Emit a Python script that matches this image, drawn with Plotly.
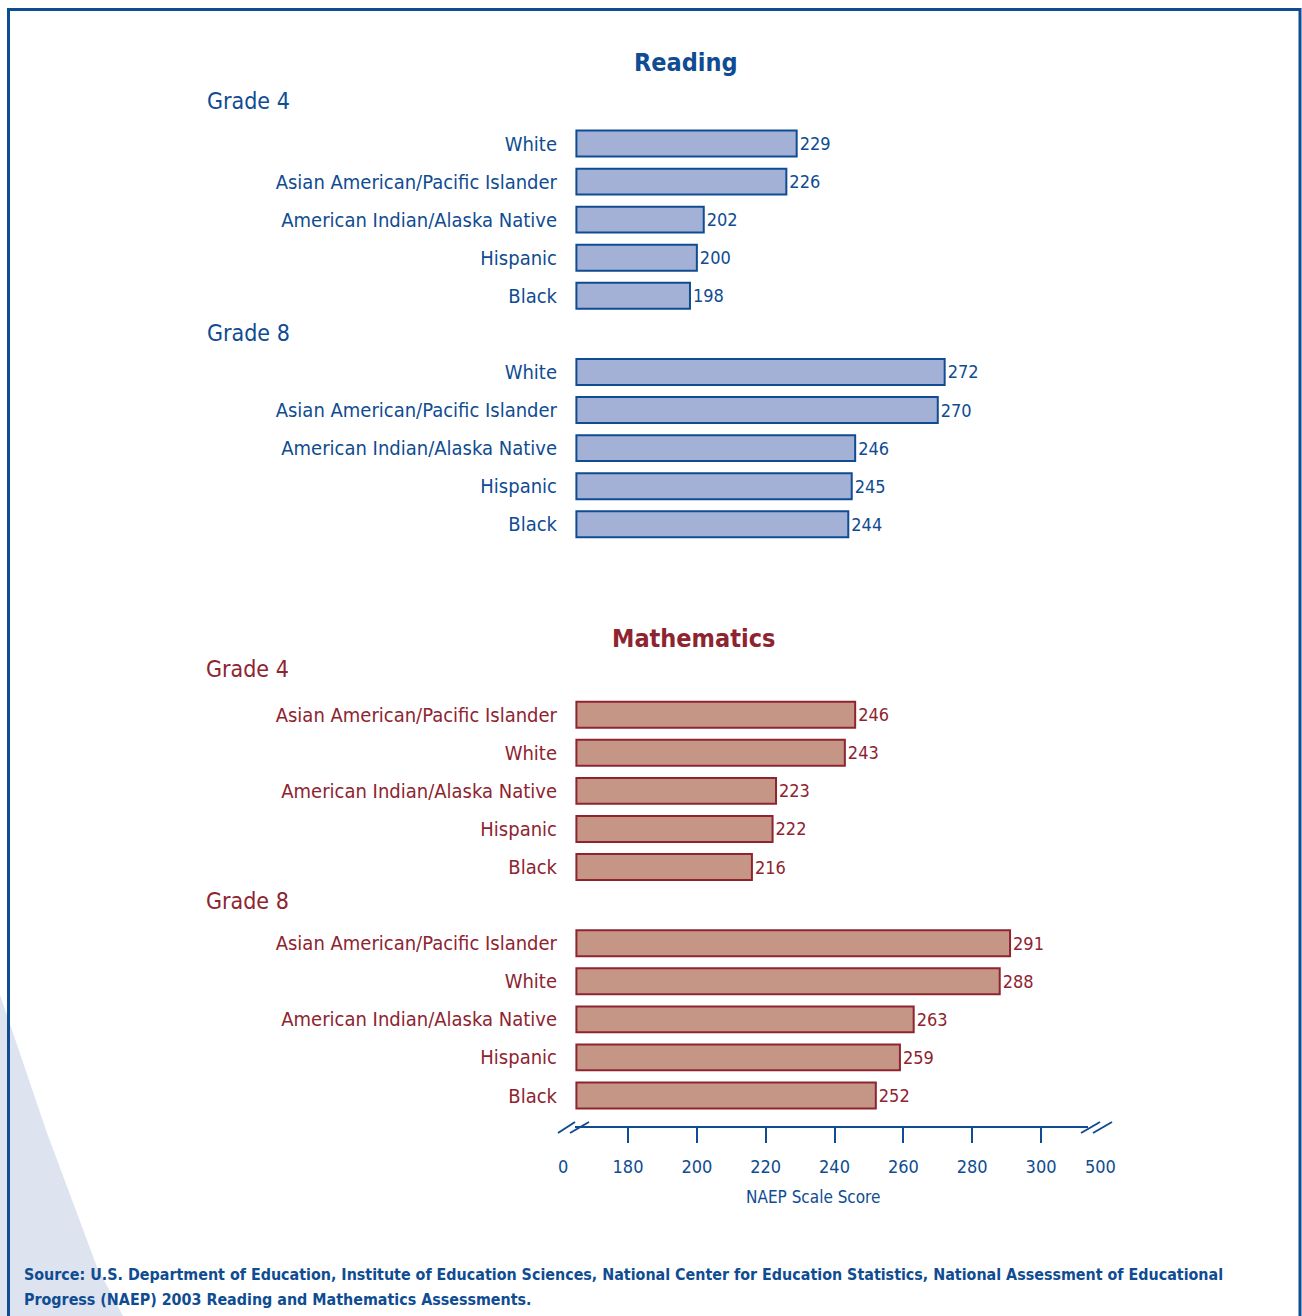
import plotly.graph_objects as go

# ---------------- data ----------------
reading_g4_cats = ["White", "Asian American/Pacific Islander", "American Indian/Alaska Native", "Hispanic", "Black"]
reading_g4 = [229, 226, 202, 200, 198]
reading_g8_cats = ["White", "Asian American/Pacific Islander", "American Indian/Alaska Native", "Hispanic", "Black"]
reading_g8 = [272, 270, 246, 245, 244]
math_g4_cats = ["Asian American/Pacific Islander", "White", "American Indian/Alaska Native", "Hispanic", "Black"]
math_g4 = [246, 243, 223, 222, 216]
math_g8_cats = ["Asian American/Pacific Islander", "White", "American Indian/Alaska Native", "Hispanic", "Black"]
math_g8 = [291, 288, 263, 259, 252]
axis_ticks = [180, 200, 220, 240, 260, 280, 300]
axis_break_labels = ["0", "500"]
BASE = 165

# ---------------- style ----------------
FONT = "DejaVu Sans Condensed, DejaVu Sans, sans-serif"
BLUE = "#0f4c92"
READ_FILL = "#a4b1d6"
RED = "#8e2430"
MATH_FILL = "#c59686"

W_FIG, H_FIG = 1302, 1316
L, R, T, B = 575, 1088, 0, 1126  # plot area in pixels
PW, PH = R - L, B - T


def px(x):
    return (x - L) / PW


def py(y):
    return (B - y) / PH


groups = [
    (reading_g4_cats, reading_g4, 0, READ_FILL, BLUE),
    (reading_g8_cats, reading_g8, 6, READ_FILL, BLUE),
    (math_g4_cats, math_g4, 15, MATH_FILL, RED),
    (math_g8_cats, math_g8, 21, MATH_FILL, RED),
]

fig = go.Figure()
tickvals, ticktext = [], []
for cats, vals, off, fill, col in groups:
    rows = [off + i for i in range(len(cats))]
    fig.add_trace(go.Bar(
        y=rows, x=[v - BASE for v in vals], base=BASE, orientation="h",
        width=0.68,
        marker=dict(color=fill, line=dict(color=col, width=2)),
        text=[str(v) for v in vals], textposition="outside",
        textfont=dict(family=FONT, size=18, color=col),
        cliponaxis=False, constraintext="none", hoverinfo="skip",
    ))
    tickvals += rows
    ticktext += [f'<span style="color:{col}">{c}</span>' for c in cats]

ann = []
# section titles
ann.append(dict(text="<b>Reading</b>", x=px(686), y=py(62), font=dict(size=25, color=BLUE)))
ann.append(dict(text="<b>Mathematics</b>", x=px(693), y=py(638), font=dict(size=25, color=RED)))
# grade labels
for txt, xx, yy, col in [("Grade 4", 205, 101, BLUE), ("Grade 8", 205, 333, BLUE),
                         ("Grade 4", 204, 669, RED), ("Grade 8", 204, 901, RED)]:
    ann.append(dict(text=txt, x=px(xx), y=py(yy), xanchor="left", font=dict(size=23, color=col)))
# axis break labels
ann.append(dict(text=axis_break_labels[0], x=px(563), y=py(1166), font=dict(size=18, color=BLUE)))
ann.append(dict(text=axis_break_labels[1], x=px(1100), y=py(1166), font=dict(size=18, color=BLUE)))
# axis title
ann.append(dict(text="NAEP Scale Score", x=px(813), y=py(1197), font=dict(size=17, color=BLUE)))
# source
ann.append(dict(text="<b>Source: U.S. Department of Education, Institute of Education Sciences, National Center for Education Statistics, National Assessment of Educational</b>",
                x=px(22), y=py(1274), xanchor="left", font=dict(size=15.9, color=BLUE)))
ann.append(dict(text="<b>Progress (NAEP) 2003 Reading and Mathematics Assessments.</b>",
                x=px(22), y=py(1299), xanchor="left", font=dict(size=15.9, color=BLUE)))
for a in ann:
    a.update(xref="paper", yref="paper", showarrow=False)
    a.setdefault("xanchor", "center")
    a["yanchor"] = "middle"
    a["font"]["family"] = FONT

shapes = []
# decorative light wedge bottom-left
pts = [(0, 995), (13, 1033), (47, 1133), (97, 1267), (123, 1316), (0, 1316)]
path = "M " + " L ".join(f"{px(x)},{py(y)}" for x, y in pts) + " Z"
shapes.append(dict(type="path", path=path, xref="paper", yref="paper",
                   fillcolor="#dde3ef", line=dict(width=0), layer="below"))
# frame
fpts = [(8.5, 1320), (8.5, 9.5), (1300, 9.5), (1300, 1320)]
fpath = "M " + " L ".join(f"{px(x)},{py(y)}" for x, y in fpts)
shapes.append(dict(type="path", path=fpath, xref="paper", yref="paper",
                   line=dict(color=BLUE, width=3), layer="above"))
# axis break marks
for (x0, y0, x1, y1) in [(558, 1133, 575, 1122), (570, 1133, 589, 1122),
                         (1081, 1133, 1100, 1122), (1093, 1133, 1112, 1122)]:
    shapes.append(dict(type="line", xref="paper", yref="paper",
                       x0=px(x0), y0=py(y0), x1=px(x1), y1=py(y1),
                       line=dict(color=BLUE, width=2)))

scale = 413 / 120.0  # px per score unit (180->628, 300->1041)
x_lo = BASE + (L - 576.4) / scale
x_hi = BASE + (R - 576.4) / scale
row0, rstep = 143.5, 38.08

fig.update_layout(
    width=W_FIG, height=H_FIG,
    margin=dict(l=L, r=W_FIG - R, t=T, b=H_FIG - B, pad=0),
    paper_bgcolor="white", plot_bgcolor="white",
    showlegend=False, barmode="overlay",
    font=dict(family=FONT, color=BLUE),
    annotations=ann, shapes=shapes,
    xaxis=dict(range=[x_lo, x_hi], tickvals=axis_ticks, ticktext=[str(t) for t in axis_ticks],
               tickfont=dict(family=FONT, size=18, color=BLUE),
               showgrid=False, zeroline=False, showline=True, linecolor=BLUE, linewidth=2,
               ticks="outside", ticklen=15, tickwidth=2, tickcolor=BLUE,
               ticklabelstandoff=8, fixedrange=True),
    yaxis=dict(range=[(B - row0) / rstep, (T - row0) / rstep],
               tickvals=tickvals, ticktext=ticktext,
               tickfont=dict(family=FONT, size=20),
               ticks="outside", ticklen=13, tickcolor="rgba(0,0,0,0)",
               showgrid=False, zeroline=False, showline=False, fixedrange=True),
)

fig.write_html("out.html", config={"displayModeBar": False})
